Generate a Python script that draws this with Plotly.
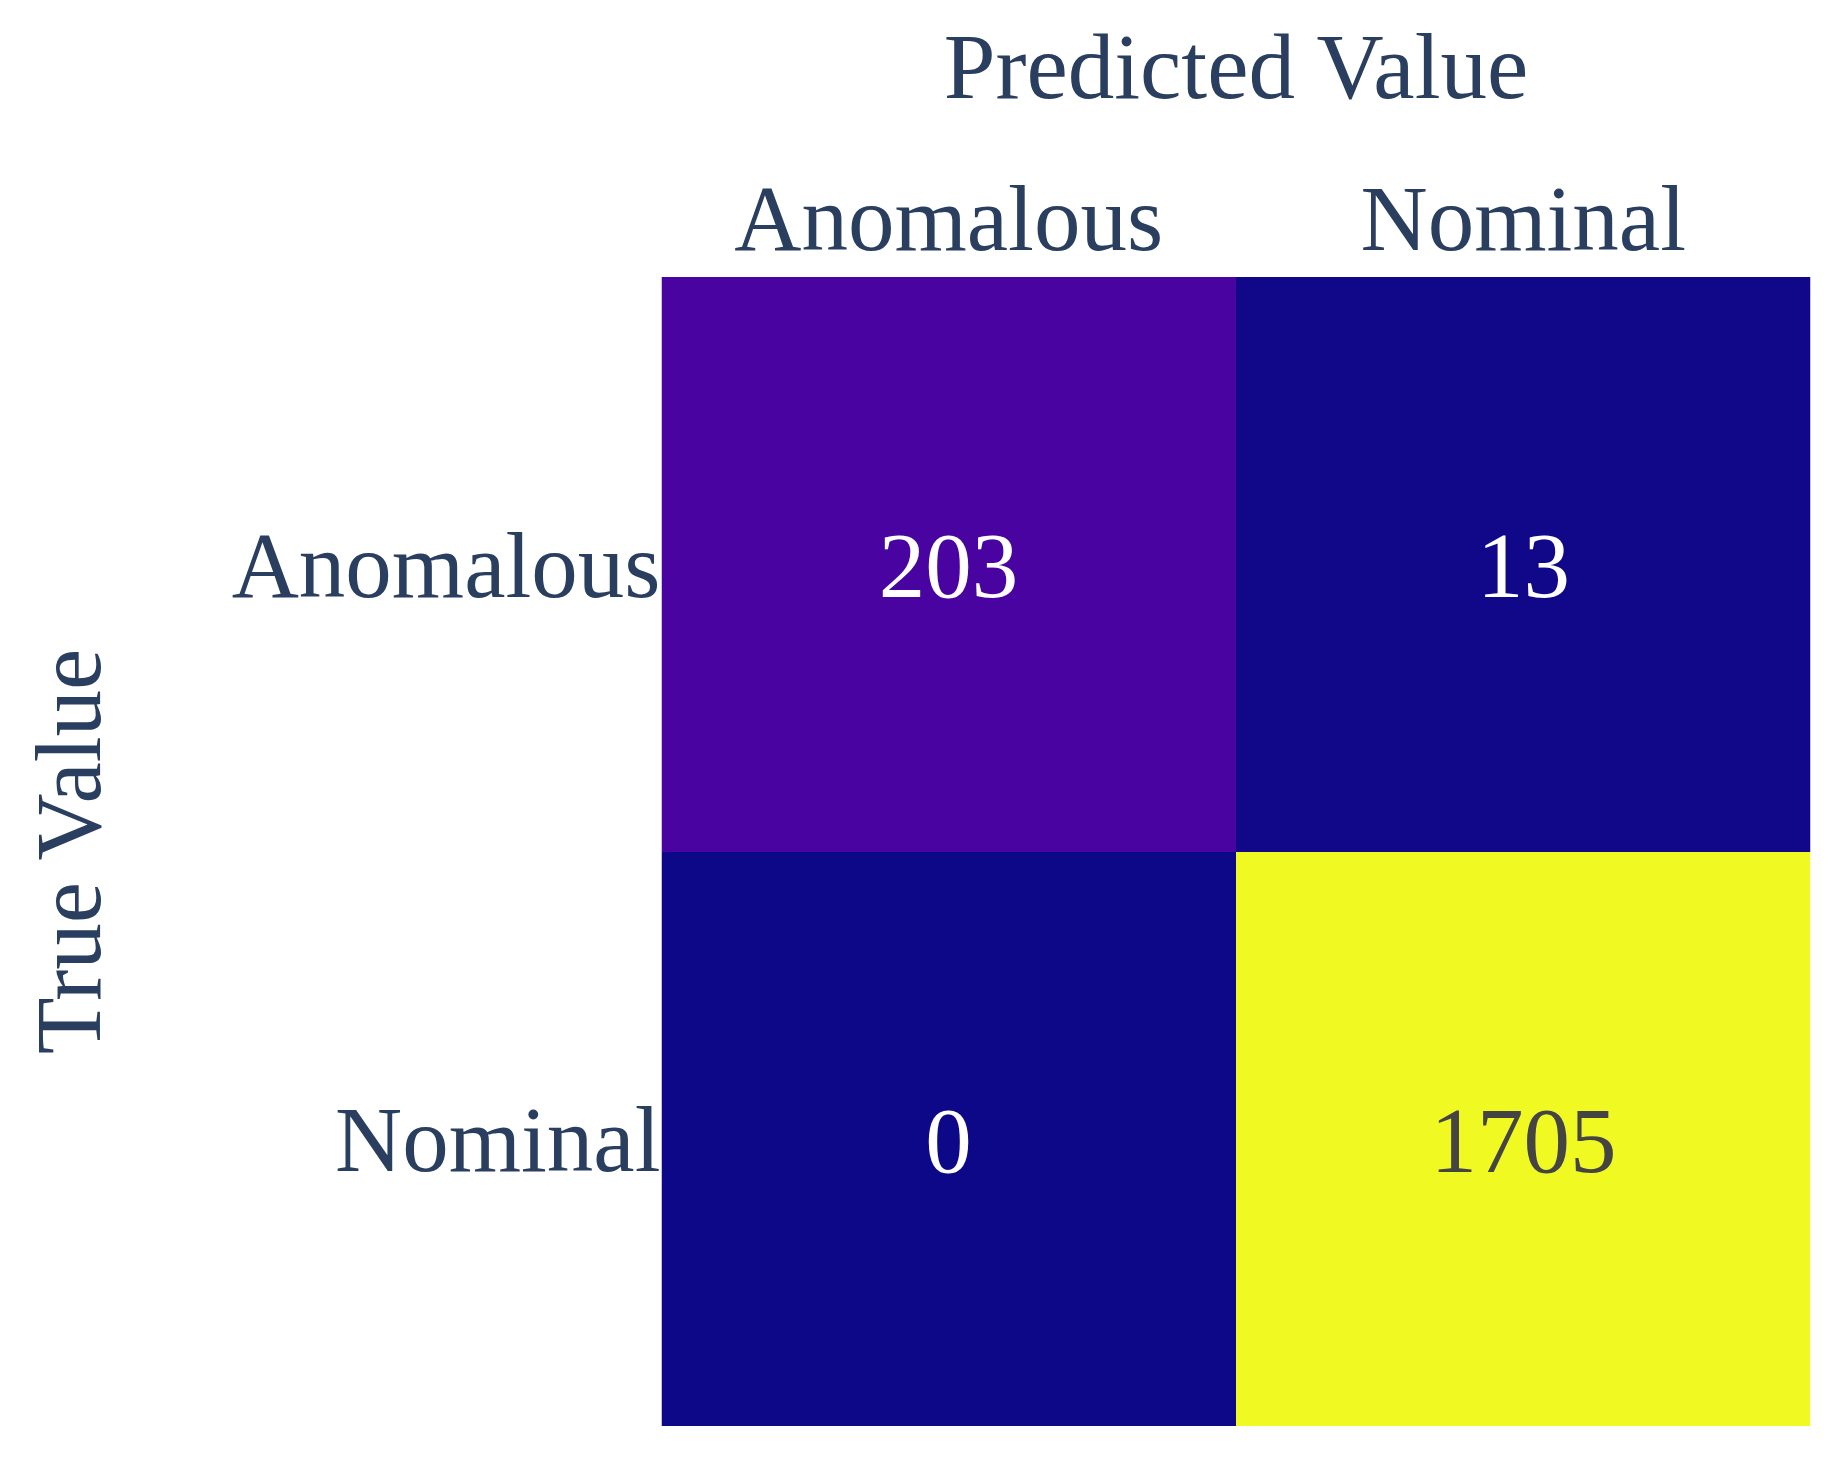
import plotly.graph_objs as go

# confusion matrix, rows = true value, cols = predicted value
labels = ['Anomalous', 'Nominal']
counts_anomalous = [203, 13]
counts_nominal = [0, 1705]

z = [counts_anomalous, counts_nominal]

font_size = 93

data = go.Heatmap(
    z=z,
    x=labels,
    y=labels,
    colorscale='Plasma',
    showscale=False,
    texttemplate='%{z}',
    textfont={'size': font_size, 'family': 'Liberation Serif'},
    hoverinfo='z')

layout = go.Layout(
    width=1840,
    height=1463,
    font={'family': 'Liberation Serif', 'size': font_size, 'color': '#2a3f5f'},
    paper_bgcolor='white',
    plot_bgcolor='white',
    margin={'l': 653, 'r': 37, 't': 269, 'b': 45},
    xaxis={'side': 'top',
           'title': {'text': 'Predicted Value', 'standoff': 37, 'font': {'size': font_size}},
           'ticklabelstandoff': 7,
           'showgrid': False, 'zeroline': False, 'ticks': '', 'constrain': 'domain'},
    yaxis={'title': {'text': 'True Value', 'standoff': 100, 'font': {'size': font_size}},
           'autorange': 'reversed',
           'showgrid': False, 'zeroline': False, 'ticks': '',
           'scaleanchor': 'x', 'constrain': 'domain'})

fig = go.Figure(data=[data], layout=layout)
fig.write_html("out.html")
